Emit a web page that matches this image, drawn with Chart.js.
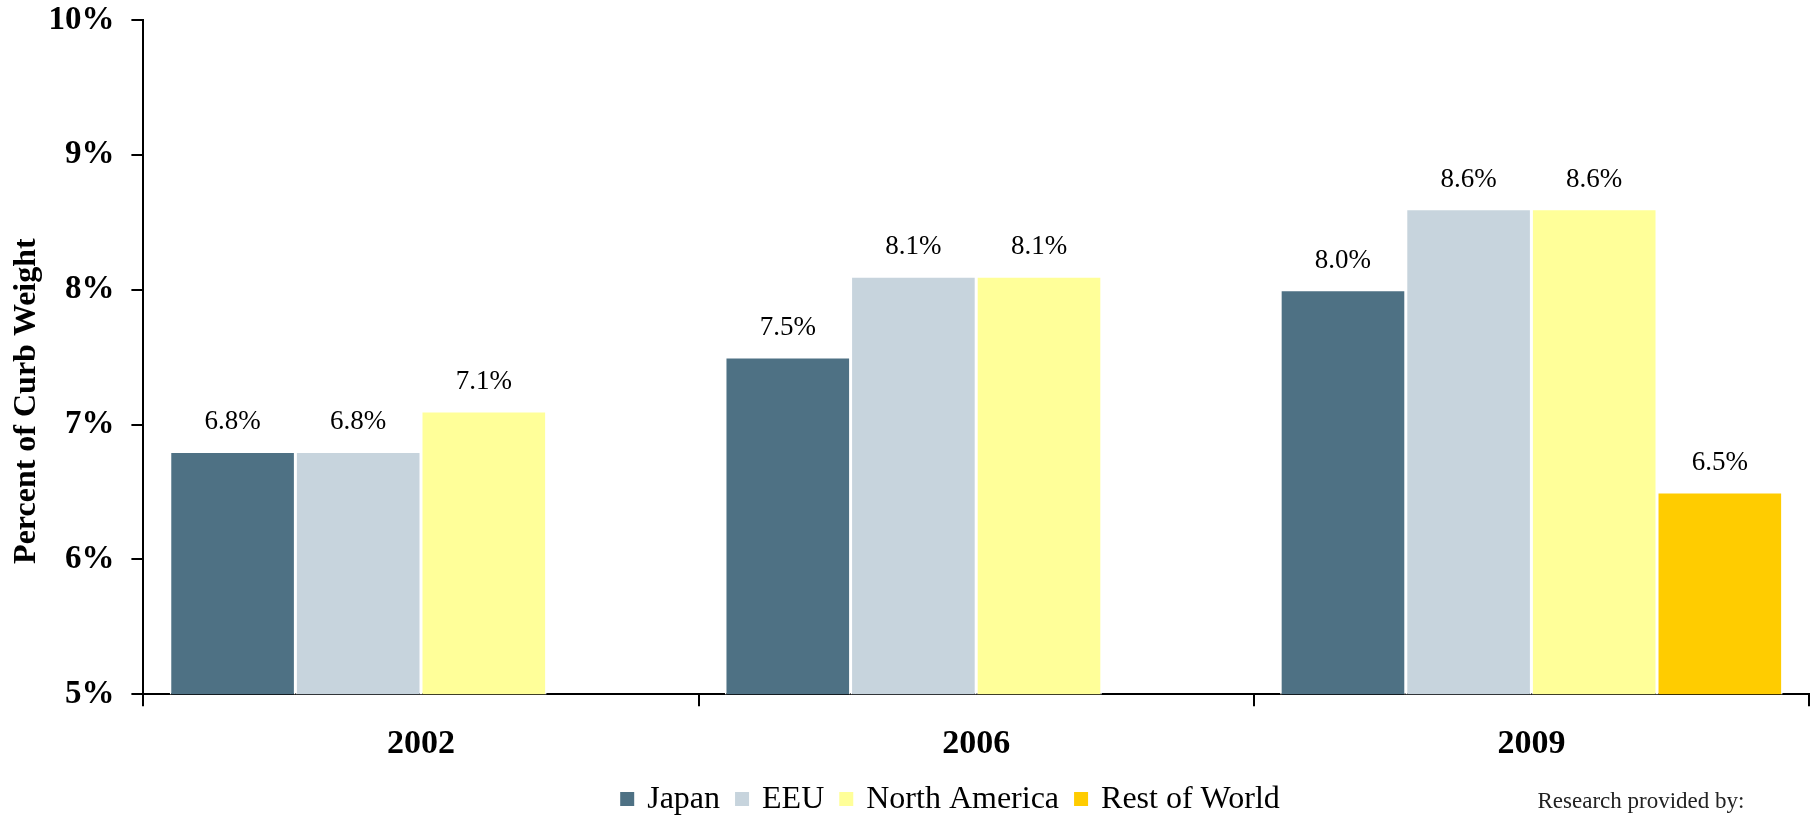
<!DOCTYPE html>
<html lang="en">
<head>
    <meta charset="UTF-8">
    <title>Percent of Curb Weight</title>
    <script src="https://cdn.jsdelivr.net/npm/chart.js"></script>
    <style>
        html, body {
            margin: 0;
            padding: 0;
            background-color: #ffffff;
        }
        #wrap {
            width: 1814px;
            height: 816px;
            position: relative;
        }
    </style>
</head>
<body>

    <div id="wrap"><canvas id="curbChart"></canvas></div>

    <script>
        // Chart data
        const years = ['2002', '2006', '2009'];
        const japan = [6.8, 7.5, 8.0];
        const eeu = [6.8, 8.1, 8.6];
        const northAmerica = [7.1, 8.1, 8.6];
        const restOfWorld = [null, null, 6.5];
        const seriesNames = ['Japan', 'EEU', 'North America', 'Rest of World'];
        const yTicks = [5, 6, 7, 8, 9, 10];

        const serif = 'Liberation Serif';

        // value labels above each bar
        const barLabels = {
            id: 'barLabels',
            afterDatasetsDraw(chart) {
                const ctx = chart.ctx;
                ctx.save();
                ctx.font = '27px "' + serif + '"';
                ctx.fillStyle = '#000';
                ctx.textAlign = 'center';
                ctx.textBaseline = 'alphabetic';
                chart.data.datasets.forEach((ds, i) => {
                    chart.getDatasetMeta(i).data.forEach((bar, j) => {
                        const v = ds.data[j];
                        if (v == null) return;
                        ctx.fillText(v.toFixed(1) + '%', bar.x, bar.y - 22);
                    });
                });
                ctx.restore();
            }
        };

        // legend row, drawn by hand so it can sit off-centre like the original
        const legendRow = {
            id: 'legendRow',
            afterDraw(chart) {
                const ctx = chart.ctx;
                const box = 14, textGap = 13, itemGap = 15;
                ctx.save();
                ctx.font = '32px "' + serif + '"';
                const items = chart.data.datasets.map(ds => ({
                    label: ds.label,
                    color: ds.backgroundColor,
                    w: ctx.measureText(ds.label).width
                }));
                const total = items.reduce((s, it) => s + box + textGap + it.w, 0) + itemGap * (items.length - 1);
                let x = 950 - total / 2;
                const y = 799;
                ctx.textBaseline = 'middle';
                items.forEach(it => {
                    ctx.fillStyle = it.color;
                    ctx.fillRect(x, y - box / 2, box, box);
                    x += box + textGap;
                    ctx.fillStyle = '#000';
                    ctx.fillText(it.label, x, y + 1);
                    x += it.w + itemGap;
                });
                ctx.restore();
            }
        };

        const credit = {
            id: 'credit',
            afterDraw(chart) {
                const ctx = chart.ctx;
                ctx.save();
                ctx.font = '23px "' + serif + '"';
                ctx.fillStyle = '#222';
                ctx.textAlign = 'center';
                ctx.textBaseline = 'middle';
                ctx.fillText('Research provided by:', 1641, 802);
                ctx.restore();
            }
        };

        const ctx = document.getElementById('curbChart').getContext('2d');
        const curbChart = new Chart(ctx, {
            type: 'bar',
            data: {
                labels: years,
                datasets: [
                    { label: seriesNames[0], data: japan, backgroundColor: '#4E7184' },
                    { label: seriesNames[1], data: eeu, backgroundColor: '#C7D4DD' },
                    { label: seriesNames[2], data: northAmerica, backgroundColor: '#FFFF99' },
                    { label: seriesNames[3], data: restOfWorld, backgroundColor: '#FFCC00' }
                ]
            },
            options: {
                responsive: true,
                maintainAspectRatio: false,
                animation: false,
                devicePixelRatio: 1,
                layout: {
                    padding: { left: 3, right: 5, top: 20, bottom: 33 }
                },
                datasets: {
                    bar: {
                        categoryPercentage: 0.905,
                        barPercentage: 1.0,
                        borderColor: '#ffffff',
                        borderWidth: 1.5
                    }
                },
                plugins: {
                    legend: { display: false },
                    tooltip: { enabled: false }
                },
                scales: {
                    x: {
                        border: { color: '#000', width: 2 },
                        grid: {
                            offset: true,
                            drawOnChartArea: false,
                            color: '#000',
                            lineWidth: 2,
                            tickLength: 12
                        },
                        ticks: {
                            padding: 18,
                            color: '#000',
                            font: { family: serif, size: 34, weight: 'bold', lineHeight: 1.2 }
                        }
                    },
                    y: {
                        min: yTicks[0],
                        max: yTicks[yTicks.length - 1],
                        afterBuildTicks: axis => {
                            axis.ticks = yTicks.map(v => ({ value: v }));
                        },
                        border: { color: '#000', width: 2 },
                        grid: {
                            drawOnChartArea: false,
                            color: '#000',
                            lineWidth: 2,
                            tickLength: 12
                        },
                        ticks: {
                            padding: 17,
                            color: '#000',
                            // tiny line height keeps the top label from pushing the plot down
                            font: { family: serif, size: 33, weight: 'bold', lineHeight: 0.1 },
                            callback: v => v + '%'
                        },
                        title: {
                            display: true,
                            // trailing spaces push the rotated title a bit lower, as in the original
                            text: 'Percent of Curb Weight' + '\u00A0'.repeat(11),
                            color: '#000',
                            font: { family: serif, size: 32, weight: 'bold' },
                            padding: { top: 5, bottom: -15 }
                        }
                    }
                }
            },
            plugins: [barLabels, legendRow, credit]
        });
    </script>

</body>
</html>
